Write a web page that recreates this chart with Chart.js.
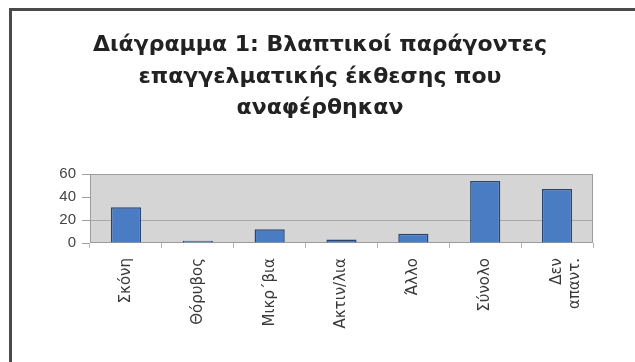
<!DOCTYPE html>
<html>
<head>
<meta charset="utf-8">
<script src="https://cdn.jsdelivr.net/npm/chart.js@4/dist/chart.umd.min.js"></script>
<style>
  html, body { margin: 0; padding: 0; background: #fff; }
  #wrap { position: relative; width: 635px; height: 362px; overflow: hidden; }
  #frame {
    position: absolute; left: 9px; top: 8px; width: 700px; height: 400px;
    border-top: 3px solid #4a4a4a; border-left: 3px solid #4a4a4a;
    pointer-events: none;
  }
  canvas { position: absolute; left: 0; top: 0; }
</style>
</head>
<body>
<div id="wrap">
  <canvas id="chart" width="635" height="362"></canvas>
  <div id="frame"></div>
</div>
<script>
var titleLines = ["Διάγραμμα 1: Βλαπτικοί παράγοντες", "επαγγελματικής έκθεσης που", "αναφέρθηκαν"];
var categories = ["Σκόνη", "Θόρυβος", "Μικρ΄βια", "Ακτιν/λια", "Άλλο", "Σύνολο", ["Δεν", "απαντ."]];
var counts = [31, 2, 12, 3, 8, 54, 47];
var yTicks = [0, 20, 40, 60];

// grey plot background with a thin frame around it
var plotBox = {
    id: 'plotBox',
    beforeDatasetsDraw: function (chart) {
        var a = chart.chartArea, c = chart.ctx;
        c.save();
        c.fillStyle = '#d6d5d5';
        c.fillRect(a.left, a.top, a.right - a.left, a.bottom - a.top);
        // gridline at 20
        var y20 = chart.scales.y.getPixelForValue(20);
        c.strokeStyle = '#a9a9a9';
        c.lineWidth = 1;
        c.beginPath();
        c.moveTo(a.left, Math.round(y20) + 0.5);
        c.lineTo(a.right, Math.round(y20) + 0.5);
        c.stroke();
        c.strokeStyle = '#9c9c9c';
        c.strokeRect(a.left + 0.5, a.top + 0.5, a.right - a.left - 1, a.bottom - a.top - 1);
        c.restore();
    }
};

// three-line heading, centred on the page rather than on the plot
var heading = {
    id: 'heading',
    afterDraw: function (chart) {
        var c = chart.ctx;
        c.save();
        c.fillStyle = '#222';
        c.font = 'bold 22px "DejaVu Sans"';
        c.textAlign = 'center';
        c.textBaseline = 'middle';
        var rows = [45, 77, 108];
        titleLines.forEach(function (t, i) { c.fillText(t, 320, rows[i]); });
        c.restore();
    }
};

var ctx = document.getElementById("chart").getContext('2d');
var myChart = new Chart(ctx, {
    type: 'bar',
    data: {
        labels: categories,
        datasets: [{
            data: counts,
            backgroundColor: '#4a7cc4',
            borderColor: '#2a4670',
            borderWidth: 1.5,
            categoryPercentage: 1,
            barPercentage: 0.42
        }]
    },
    options: {
        responsive: false,
        animation: false,
        layout: { padding: { left: 0, right: 42, top: 174, bottom: 0 } },
        plugins: {
            legend: { display: false },
            tooltip: { enabled: false }
        },
        scales: {
            y: {
                min: 0,
                max: 60,
                afterBuildTicks: function (s) { s.ticks = yTicks.map(function (v) { return { value: v }; }); },
                afterFit: function (s) { s.width = 90; },
                border: { display: false },
                grid: { drawOnChartArea: false, tickLength: 8, tickColor: '#9c9c9c' },
                ticks: {
                    color: '#444',
                    padding: 6,
                    font: { family: 'Liberation Sans', size: 15 }
                }
            },
            x: {
                afterFit: function (s) { s.height = 119; },
                border: { display: false },
                grid: { offset: true, drawOnChartArea: false, tickLength: 5, tickColor: '#b5b5b5' },
                ticks: {
                    color: '#3a3a3a',
                    minRotation: 90,
                    maxRotation: 90,
                    padding: 10,
                    autoSkip: false,
                    font: { family: 'DejaVu Sans', size: 15 }
                }
            }
        }
    },
    plugins: [plotBox, heading]
});
</script>
</body>
</html>
